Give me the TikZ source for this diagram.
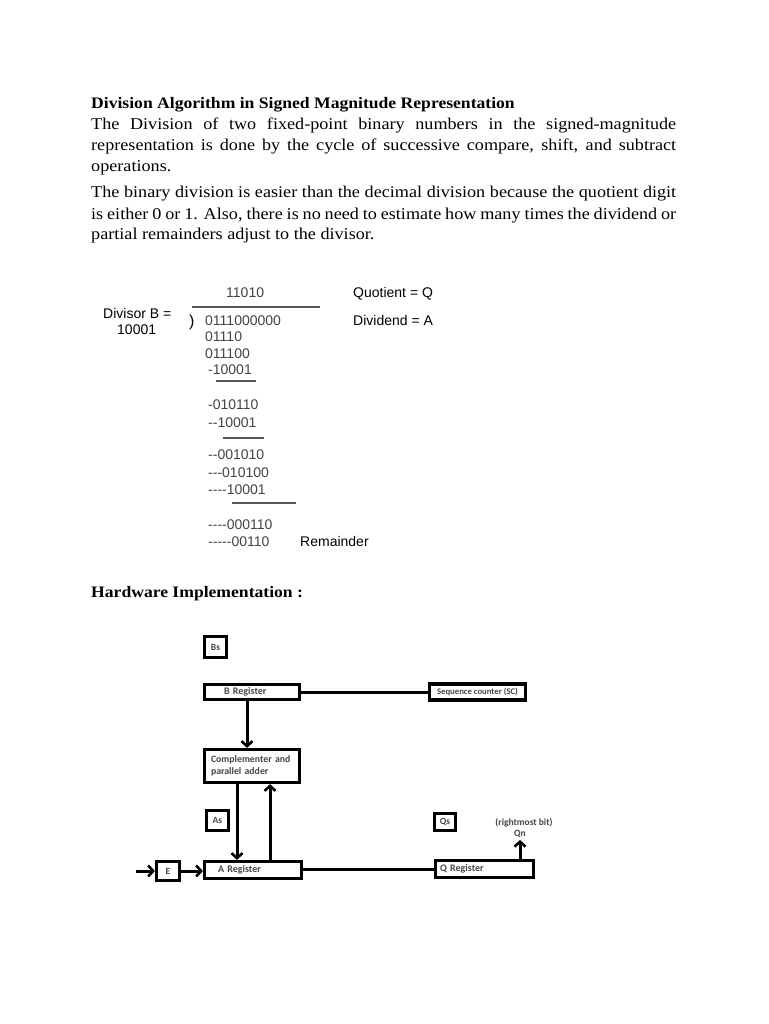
\documentclass[tikz,border=0pt]{standalone}
\usepackage{fontspec}
\setmainfont{Liberation Serif}[FakeStretch=1.1]
\newfontfamily\arialf{Liberation Sans}
\newfontfamily\calf{Carlito}
\usetikzlibrary{arrows.meta}
\definecolor{numgray}{HTML}{444444}
\definecolor{boxtext}{HTML}{464646}
\definecolor{rulegray}{HTML}{555555}
\begin{document}
\begin{tikzpicture}[x=1pt,y=-1pt,
  para/.style={anchor=base west,inner sep=0,text width=585pt,align=justify,font=\fontsize{16.5}{21}\selectfont},
  head/.style={anchor=base west,inner sep=0,font=\bfseries\fontsize{16}{21}\selectfont},
  num/.style={anchor=base west,inner sep=0,font=\arialf\fontsize{14}{16}\selectfont,text=numgray},
  lab/.style={anchor=base west,inner sep=0,font=\arialf\fontsize{14}{16}\selectfont},
  divrule/.style={line width=1.2pt,draw=rulegray},
  reg/.style={draw,line width=3.2pt,inner sep=0,font=\calf\bfseries\fontsize{10}{11}\selectfont,text=boxtext},
  small/.style={font=\calf\bfseries\fontsize{9.5}{10}\selectfont},
  conn/.style={line width=3pt},
  arr/.style={line width=3pt,-{Straight Barb[length=5pt,width=11pt,line width=2.6pt]}}
]
\fill[white] (0,0) rectangle (768,1024);
\useasboundingbox (0,0) rectangle (768,1024);

% ---------- text ----------
\node[head] (title) at (91,109) {Division Algorithm in Signed Magnitude Representation};
\node[para] (p1) at (91,130) {\hyphenpenalty=10000\exhyphenpenalty=10000\tolerance=10000
The Division of two fixed-point binary numbers in the signed-magnitude\linebreak
representation is done by the cycle of successive compare, shift, and subtract\linebreak
operations.};
\node[para] (p2) at (91,198) {\hyphenpenalty=10000\exhyphenpenalty=10000\tolerance=10000
The binary division is easier than the decimal division because the quotient digit\linebreak
is either 0 or 1. Also, there is no need to estimate how many times the dividend or\linebreak
partial remainders adjust to the divisor.};

% ---------- long division ----------
\node[num] (quo) at (226,297) {11010};
\node[lab] (quolab) at (353,297) {Quotient = Q};
\node[lab] (dvs) at (103,318) {Divisor B =};
\node[lab] (dvsval) at (117,334) {10001};
\node[lab] (dvdlab) at (353,325) {Dividend = A};
\draw[divrule] (192,307) -- (320,307);
\node[lab,font=\arialf\fontsize{16}{18}\selectfont] (bracket) at (189,326) {)};
\node[num] (d1) at (205,325) {0111000000};
\node[num] (d2) at (205,341) {01110};
\node[num] (d3) at (205,358) {011100};
\node[num] (d4) at (208,374) {-10001};
\draw[divrule] (216,381) -- (256,381);
\node[num] (d5) at (208,409) {-010110};
\node[num] (d6) at (208,427) {--10001};
\draw[divrule] (223,438) -- (264,438);
\node[num] (d7) at (208,459) {--001010};
\node[num] (d8) at (208,477) {---010100};
\node[num] (d9) at (208,494) {----10001};
\draw[divrule] (232,503) -- (296,503);
\node[num] (d10) at (208,529) {----000110};
\node[num] (d11) at (208,546) {-----00110};
\node[lab] (rem) at (300,546) {Remainder};

% ---------- hardware ----------
\node[head] (hw) at (91,597) {Hardware Implementation :};

\node[reg,small,minimum width=22pt,minimum height=21pt] (bs) at (215.5,647) {Bs};
\node[reg,text width=56pt,inner xsep=19.5pt,minimum height=15pt,align=left] (breg) at (252,692) {B Register};
\node[reg,minimum width=96pt,minimum height=16pt,font=\calf\bfseries\fontsize{8.7}{10}\selectfont] (sc) at (477.5,692) {Sequence counter (SC)};
\node[reg,text width=82pt,inner xsep=6.5pt,minimum height=33pt,align=left,font=\calf\bfseries\fontsize{9.8}{12.5}\selectfont] (comp) at (252,766) {Complementer and\\parallel adder};
\node[reg,small,minimum width=22pt,minimum height=20pt] (as) at (217.5,820.5) {As};
\node[reg,small,minimum width=21pt,minimum height=17pt] (qs) at (445,822) {Qs};
\node[reg,text width=70pt,inner xsep=13.5pt,minimum height=17pt,align=left] (areg) at (253,870) {A Register};
\node[reg,small,minimum width=23pt,minimum height=19pt] (e) at (168,871) {E};
\node[reg,text width=89pt,inner xsep=4.5pt,minimum height=17pt,align=left] (qreg) at (484.5,869) {Q Register};
\node[inner sep=0,font=\calf\bfseries\fontsize{9.5}{10}\selectfont,text=boxtext] (rmb) at (524,823) {(rightmost bit)};
\node[inner sep=0,font=\calf\bfseries\fontsize{9.5}{10}\selectfont,text=boxtext] (qn) at (520,834) {Qn};
\coordinate (ein) at (136,871);

\draw[conn] (breg.east) -- (sc.west);
\draw[arr] ([xshift=-5pt]breg.south) -- ([xshift=-5pt]breg.south |- comp.north);
\draw[arr] ([xshift=-15pt]comp.south) -- ([xshift=-15pt]comp.south |- areg.north);
\draw[arr] ([xshift=17pt]areg.north) -- ([xshift=17pt]areg.north |- comp.south);
\draw[arr] (ein) -- (e.west);
\draw[arr] (e.east) -- (e.east -| areg.west);
\draw[conn] (qreg.west -| areg.east) -- (qreg.west);
\draw[arr,shorten >=2pt] (qn.south |- qreg.north) -- (qn.south);
\end{tikzpicture}
\end{document}
